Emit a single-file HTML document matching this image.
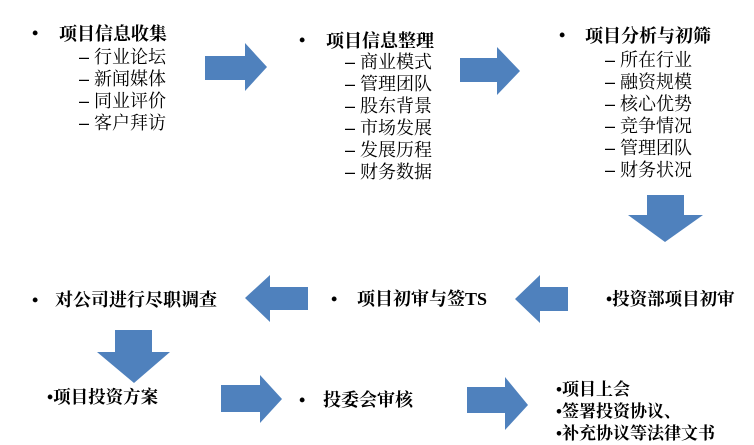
<!DOCTYPE html>
<html><head><meta charset="utf-8"><style>
body{margin:0;width:754px;height:443px;background:#fff;position:relative;overflow:hidden;font-family:"Liberation Serif","Noto Serif CJK SC","Noto Sans CJK SC",serif;color:#000}
.t{position:absolute;white-space:nowrap;line-height:1}
.b{font-weight:bold;font-size:18px}
.s{font-size:18px;font-family:"Liberation Sans","Noto Serif CJK SC",serif}
.d{position:absolute;font-size:18px;font-weight:bold;line-height:1}
svg{position:absolute;left:0;top:0}
</style></head><body>
<svg width="754" height="443">
<g fill="#4F81BD">
<polygon points="205,56 245,56 245,43 267,67 245,91 245,80 205,80"/>
<polygon points="460,58 497,58 497,47 520,71 497,95 497,82 460,82"/>
<polygon points="647,195 684,195 684,215 703,215 665,242 628,215 647,215"/>
<polygon points="308,287 270,287 270,275 245,298 270,322 270,310 308,310"/>
<polygon points="568,287 540,287 540,275 515,299 540,323 540,311 568,311"/>
<polygon points="115,330 152,330 152,352 170,352 134,383 97,352 115,352"/>
<polygon points="221,385 260,385 260,375 282,399 260,423 260,412 221,412"/>
<polygon points="467,387 505,387 505,377 528,405 505,430 505,413 467,413"/>
</g></svg>
<div class="d" style="left:32px;top:24px">•</div>
<div class="t b" style="left:59px;top:25px">项目信息收集</div>
<div class="t s" style="left:79px;top:46px;line-height:22px">– 行业论坛<br>– 新闻媒体<br>– 同业评价<br>– 客户拜访</div>
<div class="d" style="left:299px;top:31px">•</div>
<div class="t b" style="left:326px;top:32px">项目信息整理</div>
<div class="t s" style="left:345px;top:51px;line-height:22px">– 商业模式<br>– 管理团队<br>– 股东背景<br>– 市场发展<br>– 发展历程<br>– 财务数据</div>
<div class="d" style="left:559px;top:26px">•</div>
<div class="t b" style="left:585px;top:27px">项目分析与初筛</div>
<div class="t s" style="left:605px;top:49px;line-height:22px">– 所在行业<br>– 融资规模<br>– 核心优势<br>– 竞争情况<br>– 管理团队<br>– 财务状况</div>
<div class="d" style="left:32px;top:291px">•</div>
<div class="t b" style="left:55px;top:291px">对公司进行尽职调查</div>
<div class="d" style="left:331px;top:290px">•</div>
<div class="t b" style="left:357px;top:290px">项目初审与签TS</div>
<div class="t b" style="left:606px;top:291px;font-size:17.5px">•投资部项目初审</div>
<div class="t b" style="left:47px;top:389px;font-size:17.5px">•项目投资方案</div>
<div class="d" style="left:299px;top:391px">•</div>
<div class="t b" style="left:323px;top:391px">投委会审核</div>
<div class="t b" style="left:556px;top:379px;font-size:17px;line-height:22px">•项目上会<br>•签署投资协议、<br>•补充协议等法律文书</div>
</body></html>
